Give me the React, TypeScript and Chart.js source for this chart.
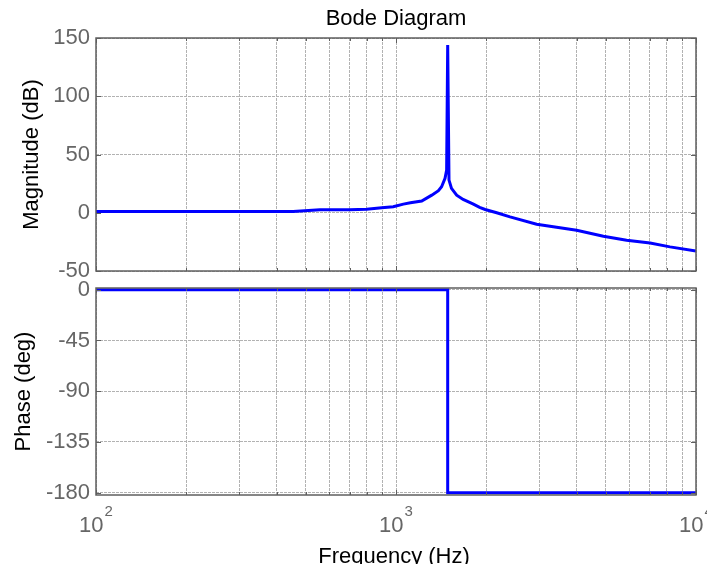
import React, { useEffect, useRef } from 'react';
import { Chart, registerables } from 'chart.js';

Chart.register(...registerables);

// ---------- data ----------
const magFreq = [100, 200, 300, 400, 454, 558, 700, 798, 896, 979, 1058, 1117, 1218, 1316, 1385, 1419, 1457, 1475, 1487, 1502, 1531, 1593, 1674, 1811, 1900, 1982, 2166, 2399, 2943, 4000, 4913, 5870, 7030, 8190, 10000];
const magDb = [1, 1, 1, 1, 1, 2.5, 2.5, 3.1, 4.2, 5.1, 7.4, 8.5, 10, 15.1, 18.9, 22.3, 29.5, 36.7, 144, 28, 20.9, 15.1, 11.4, 7.4, 4.6, 2.8, 0, -3.5, -9.8, -15, -20.1, -23.6, -25.9, -29.3, -32.8];

const phaseFreq = [100, 1487, 1487, 10000];
const phaseDeg = [0, 0, -180, -180];

const xTickValues = [100, 200, 300, 400, 500, 600, 700, 800, 900, 1000, 2000, 3000, 4000, 5000, 6000, 7000, 8000, 9000, 10000];
const decadeValues = [100, 1000, 10000];
const decadeExponents = ['2', '3', '4'];
const magTicks = [-50, 0, 50, 100, 150];
const phaseTicks = [-180, -135, -90, -45, 0];

const chartTitle = 'Bode Diagram';
const magLabel = 'Magnitude (dB)';
const phaseLabel = 'Phase (deg)';
const freqLabel = 'Frequency (Hz)';

// ---------- styles ----------
const W = 707;
const H = 564;
const FAMILY = '"Liberation Sans", Arial, Helvetica, sans-serif';
const TICK_COLOR = '#666666';
const FRAME_COLOR = '#5f5f5f';
const GRID_COLOR = '#b2b2b2';
const LINE_COLOR = '#0000ff';

function makeFramePlugin(drawXLabels: boolean) {
  return {
    id: 'frame' + (drawXLabels ? 'B' : 'A'),
    afterDraw(chart: any) {
      const { ctx, chartArea } = chart;
      const { left, right, top, bottom } = chartArea;
      const xs = chart.scales.x;
      const ys = chart.scales.y;
      ctx.save();
      ctx.strokeStyle = FRAME_COLOR;
      ctx.lineWidth = 1;
      const seg = (x1: number, y1: number, x2: number, y2: number) => {
        ctx.beginPath();
        ctx.moveTo(x1, y1);
        ctx.lineTo(x2, y2);
        ctx.stroke();
      };
      xs.ticks.forEach((t: any) => {
        const px = Math.round(xs.getPixelForValue(t.value)) + 0.5;
        const len = decadeValues.includes(t.value) ? 5 : 3;
        seg(px, top, px, top + len);
        seg(px, bottom, px, bottom - len);
      });
      ys.ticks.forEach((t: any) => {
        const py = Math.round(ys.getPixelForValue(t.value)) + 0.5;
        seg(left, py, left + 5, py);
        seg(right, py, right - 5, py);
      });
      ctx.lineWidth = 1.5;
      ctx.strokeRect(left, top, right - left, bottom - top);

      if (drawXLabels) {
        ctx.fillStyle = TICK_COLOR;
        ctx.textBaseline = 'alphabetic';
        ctx.textAlign = 'left';
        decadeValues.forEach((v, i) => {
          const px = xs.getPixelForValue(v);
          ctx.font = `22px ${FAMILY}`;
          const w1 = ctx.measureText('10').width;
          ctx.font = `15px ${FAMILY}`;
          const w2 = ctx.measureText(decadeExponents[i]).width;
          const start = px - (w1 + w2 + 1) / 2;
          ctx.font = `22px ${FAMILY}`;
          ctx.fillText('10', start, 532);
          ctx.font = `15px ${FAMILY}`;
          ctx.fillText(decadeExponents[i], start + w1 + 1, 516);
        });
        ctx.fillStyle = '#000000';
        ctx.font = `22px ${FAMILY}`;
        ctx.textAlign = 'center';
        ctx.fillText(freqLabel, (left + right) / 2 - 2, 563);
      }
      ctx.restore();
    },
  };
}

function xScale() {
  return {
    type: 'logarithmic',
    min: 100,
    max: 10000,
    afterBuildTicks: (scale: any) => {
      scale.ticks = xTickValues.map((v) => ({ value: v, major: decadeValues.includes(v) }));
    },
    afterFit: (scale: any) => {
      scale.height = 0;
      scale.paddingLeft = 0;
      scale.paddingRight = 0;
      scale.paddingTop = 0;
      scale.paddingBottom = 0;
    },
    ticks: { display: false },
    grid: { color: GRID_COLOR, lineWidth: 1, drawTicks: false },
    border: { display: false, dash: [3, 1] },
  };
}

function yScale(min: number, max: number, ticks: number[], label: string, titlePad: number) {
  return {
    type: 'linear',
    position: 'left',
    min,
    max,
    afterBuildTicks: (scale: any) => {
      scale.ticks = ticks.map((v) => ({ value: v }));
    },
    afterFit: (scale: any) => {
      scale.width = 96;
      scale.paddingTop = 0;
      scale.paddingBottom = 0;
      scale.paddingLeft = 0;
      scale.paddingRight = 0;
    },
    ticks: {
      color: TICK_COLOR,
      font: { size: 22, family: FAMILY },
      padding: 6,
      callback: (v: any) => String(v),
    },
    title: {
      display: true,
      text: label,
      color: '#000000',
      font: { size: 22, family: FAMILY },
      padding: { top: titlePad, bottom: 0 },
    },
    grid: { color: GRID_COLOR, lineWidth: 1, drawTicks: false },
    border: { display: false, dash: [3, 1] },
  };
}

export default function App() {
  const magRef = useRef<HTMLCanvasElement>(null);
  const phRef = useRef<HTMLCanvasElement>(null);

  useEffect(() => {
    const magChart = new Chart(magRef.current as HTMLCanvasElement, {
      type: 'line',
      data: {
        datasets: [
          {
            data: magFreq.map((f, i) => ({ x: f, y: magDb[i] })),
            borderColor: LINE_COLOR,
            borderWidth: 3,
            pointRadius: 0,
            tension: 0,
            fill: false,
          },
        ],
      },
      options: {
        responsive: false,
        animation: false,
        events: [],
        layout: { padding: { left: 0, right: 11, top: 0, bottom: H - 271 } },
        plugins: {
          legend: { display: false },
          tooltip: { enabled: false },
          title: {
            display: true,
            text: chartTitle,
            fullSize: false,
            color: '#000000',
            font: { size: 22, family: FAMILY, weight: 'normal' },
            padding: { top: 6, bottom: 5.6 },
          },
        },
        scales: {
          x: xScale(),
          y: yScale(-50, 150, magTicks, magLabel, 18.8),
        },
      } as any,
      plugins: [makeFramePlugin(false)],
    });

    const phChart = new Chart(phRef.current as HTMLCanvasElement, {
      type: 'line',
      data: {
        datasets: [
          {
            data: phaseFreq.map((f, i) => ({ x: f, y: phaseDeg[i] })),
            borderColor: LINE_COLOR,
            borderWidth: 3,
            pointRadius: 0,
            tension: 0,
            fill: false,
          },
        ],
      },
      options: {
        responsive: false,
        animation: false,
        events: [],
        layout: { padding: { left: 0, right: 11, top: 288, bottom: H - 495 } },
        plugins: {
          legend: { display: false },
          tooltip: { enabled: false },
          title: { display: false },
        },
        scales: {
          x: xScale(),
          y: yScale(-182, 1.5, phaseTicks, phaseLabel, 10.8),
        },
      } as any,
      plugins: [makeFramePlugin(true)],
    });

    return () => {
      magChart.destroy();
      phChart.destroy();
    };
  }, []);

  const canvasStyle: React.CSSProperties = { position: 'absolute', left: 0, top: 0 };
  return (
    <div style={{ position: 'fixed', left: 0, top: 0, width: W, height: H, background: '#ffffff', overflow: 'hidden' }}>
      <canvas ref={magRef} width={W} height={H} style={canvasStyle} />
      <canvas ref={phRef} width={W} height={H} style={canvasStyle} />
    </div>
  );
}
